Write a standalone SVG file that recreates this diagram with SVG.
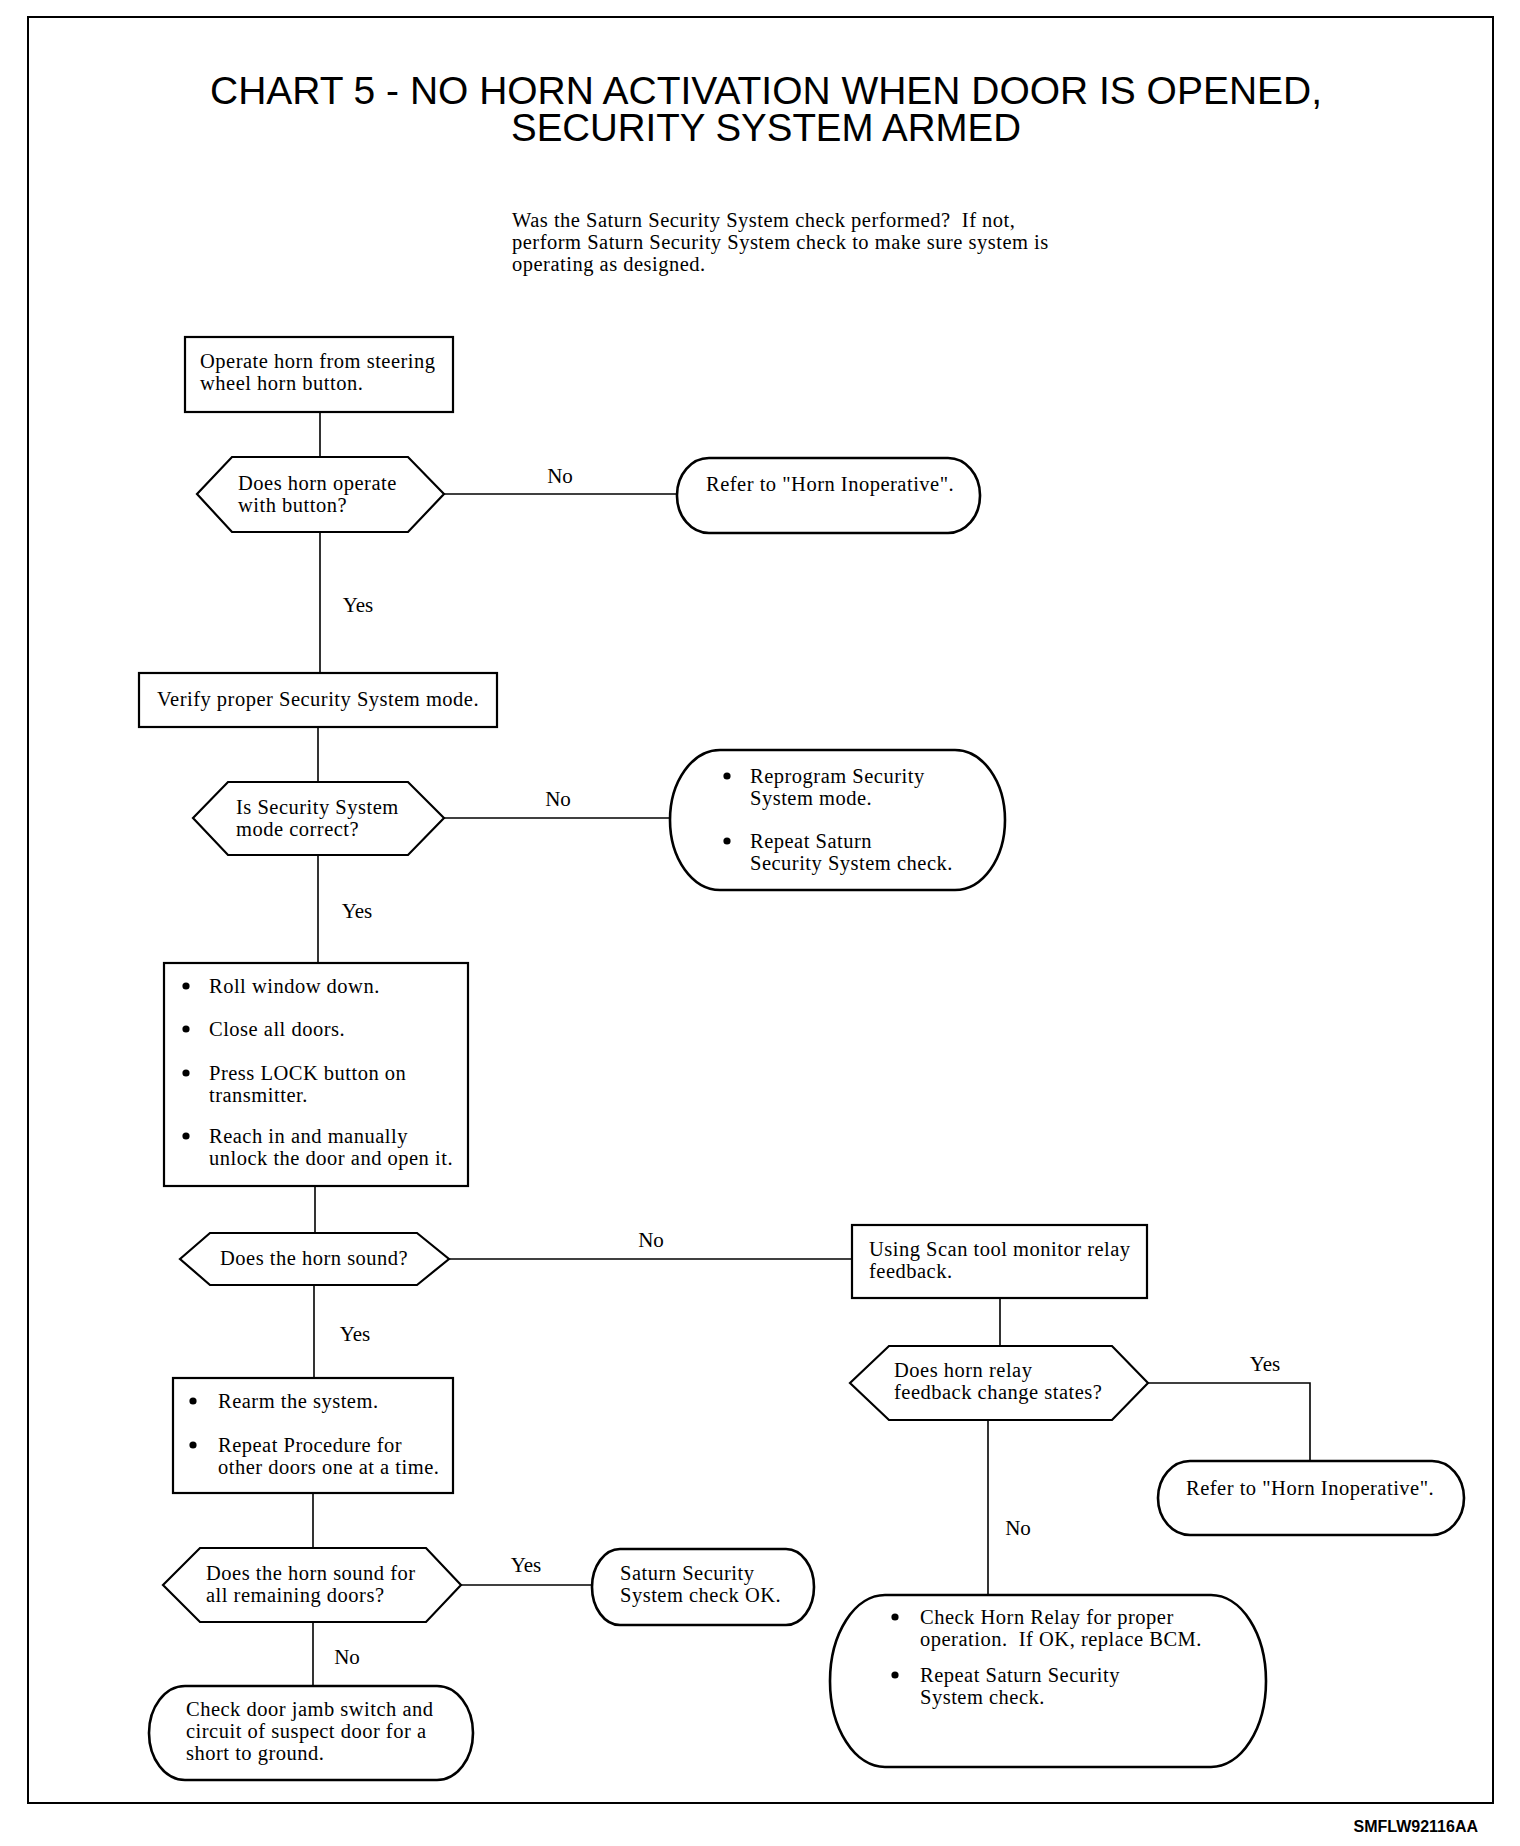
<svg xmlns="http://www.w3.org/2000/svg" width="1520" height="1846" viewBox="0 0 1520 1846">
<style>
.t{font-family:"Liberation Serif","Times New Roman",serif;font-size:20.5px;letter-spacing:0.5px;fill:#000;white-space:pre}
.lbl{font-family:"Liberation Serif","Times New Roman",serif;font-size:21px;fill:#000;text-anchor:middle}
.title{font-family:"Liberation Sans",Arial,sans-serif;font-size:38.5px;fill:#000;text-anchor:middle}
.foot{font-family:"Liberation Sans",Arial,sans-serif;font-size:16px;font-weight:bold;fill:#000;text-anchor:end}
.box{fill:#fff;stroke:#000;stroke-width:2.2}
.term{fill:#fff;stroke:#000;stroke-width:2.6}
.conn{fill:none;stroke:#000;stroke-width:1.6}
.bul{fill:#000}
</style>
<rect x="0" y="0" width="1520" height="1846" fill="#fff"/>
<rect x="28" y="17" width="1465" height="1786" fill="none" stroke="#000" stroke-width="2"/>

<g id="title">
<text class="title" x="766" y="104" textLength="1112" lengthAdjust="spacingAndGlyphs">CHART 5 - NO HORN ACTIVATION WHEN DOOR IS OPENED,</text>
<text class="title" x="766" y="141" textLength="510" lengthAdjust="spacingAndGlyphs">SECURITY SYSTEM ARMED</text>
</g>
<g id="intro">
<text class="t" x="512" y="227">Was the Saturn Security System check performed?  If not,</text>
<text class="t" x="512" y="249">perform Saturn Security System check to make sure system is</text>
<text class="t" x="512" y="271">operating as designed.</text>
</g>

<g id="connectors">
<line class="conn" x1="320" y1="412" x2="320" y2="457"/>
<line class="conn" x1="444" y1="494" x2="677" y2="494"/>
<line class="conn" x1="320" y1="532" x2="320" y2="673"/>
<line class="conn" x1="318" y1="727" x2="318" y2="782"/>
<line class="conn" x1="444" y1="818" x2="670" y2="818"/>
<line class="conn" x1="318" y1="855" x2="318" y2="963"/>
<line class="conn" x1="315" y1="1186" x2="315" y2="1233"/>
<line class="conn" x1="449" y1="1259" x2="852" y2="1259"/>
<line class="conn" x1="314" y1="1285" x2="314" y2="1378"/>
<line class="conn" x1="313" y1="1493" x2="313" y2="1548"/>
<line class="conn" x1="461" y1="1585" x2="592" y2="1585"/>
<line class="conn" x1="313" y1="1622" x2="313" y2="1686"/>
<line class="conn" x1="1000" y1="1298" x2="1000" y2="1346"/>
<polyline class="conn" points="1148,1383 1310,1383 1310,1461"/>
<line class="conn" x1="988" y1="1420" x2="988" y2="1595"/>
<text class="lbl" x="560" y="483">No</text>
<text class="lbl" x="358" y="612">Yes</text>
<text class="lbl" x="558" y="806">No</text>
<text class="lbl" x="357" y="918">Yes</text>
<text class="lbl" x="651" y="1247">No</text>
<text class="lbl" x="355" y="1341">Yes</text>
<text class="lbl" x="526" y="1572">Yes</text>
<text class="lbl" x="347" y="1664">No</text>
<text class="lbl" x="1265" y="1371">Yes</text>
<text class="lbl" x="1018" y="1535">No</text>
</g>

<g id="n1">
<rect class="box" x="185" y="337" width="268" height="75"/>
<text class="t" x="200" y="368">Operate horn from steering</text>
<text class="t" x="200" y="390">wheel horn button.</text>
</g>

<g id="n2">
<polygon class="box" points="197,494 232,457 408,457 444,494 408,532 232,532"/>
<text class="t" x="238" y="490">Does horn operate</text>
<text class="t" x="238" y="512">with button?</text>
</g>

<g id="n3">
<rect class="term" x="677" y="458" width="303" height="75" rx="32" ry="37"/>
<text class="t" x="706" y="491">Refer to "Horn Inoperative".</text>
</g>

<g id="n4">
<rect class="box" x="139" y="673" width="358" height="54"/>
<text class="t" x="157" y="706">Verify proper Security System mode.</text>
</g>

<g id="n5">
<polygon class="box" points="193,818 228,782 408,782 444,818 408,855 228,855"/>
<text class="t" x="236" y="814">Is Security System</text>
<text class="t" x="236" y="836">mode correct?</text>
</g>

<g id="n6">
<rect class="term" x="670" y="750" width="335" height="140" rx="50" ry="70"/>
<circle class="bul" cx="727" cy="776" r="3.6"/>
<text class="t" x="750" y="783">Reprogram Security</text>
<text class="t" x="750" y="805">System mode.</text>
<circle class="bul" cx="727" cy="841" r="3.6"/>
<text class="t" x="750" y="848">Repeat Saturn</text>
<text class="t" x="750" y="870">Security System check.</text>
</g>

<g id="n7">
<rect class="box" x="164" y="963" width="304" height="223"/>
<circle class="bul" cx="186" cy="986" r="3.6"/>
<text class="t" x="209" y="993">Roll window down.</text>
<circle class="bul" cx="186" cy="1029" r="3.6"/>
<text class="t" x="209" y="1036">Close all doors.</text>
<circle class="bul" cx="186" cy="1073" r="3.6"/>
<text class="t" x="209" y="1080">Press LOCK button on</text>
<text class="t" x="209" y="1102">transmitter.</text>
<circle class="bul" cx="186" cy="1136" r="3.6"/>
<text class="t" x="209" y="1143">Reach in and manually</text>
<text class="t" x="209" y="1165">unlock the door and open it.</text>
</g>

<g id="n8">
<polygon class="box" points="180,1259 210,1233 417,1233 449,1259 417,1285 210,1285"/>
<text class="t" x="220" y="1265">Does the horn sound?</text>
</g>

<g id="n9">
<rect class="box" x="852" y="1225" width="295" height="73"/>
<text class="t" x="869" y="1256">Using Scan tool monitor relay</text>
<text class="t" x="869" y="1278">feedback.</text>
</g>

<g id="n10">
<rect class="box" x="173" y="1378" width="280" height="115"/>
<circle class="bul" cx="193" cy="1401" r="3.6"/>
<text class="t" x="218" y="1408">Rearm the system.</text>
<circle class="bul" cx="193" cy="1445" r="3.6"/>
<text class="t" x="218" y="1452">Repeat Procedure for</text>
<text class="t" x="218" y="1474">other doors one at a time.</text>
</g>

<g id="n11">
<polygon class="box" points="850,1383 889,1346 1112,1346 1148,1383 1112,1420 889,1420"/>
<text class="t" x="894" y="1377">Does horn relay</text>
<text class="t" x="894" y="1399">feedback change states?</text>
</g>

<g id="n12">
<rect class="term" x="1158" y="1461" width="306" height="74" rx="32" ry="37"/>
<text class="t" x="1186" y="1495">Refer to "Horn Inoperative".</text>
</g>

<g id="n13">
<polygon class="box" points="163,1585 200,1548 426,1548 461,1585 426,1622 200,1622"/>
<text class="t" x="206" y="1580">Does the horn sound for</text>
<text class="t" x="206" y="1602">all remaining doors?</text>
</g>

<g id="n14">
<rect class="term" x="592" y="1549" width="222" height="76" rx="28" ry="38"/>
<text class="t" x="620" y="1580">Saturn Security</text>
<text class="t" x="620" y="1602">System check OK.</text>
</g>

<g id="n15">
<rect class="term" x="149" y="1686" width="324" height="94" rx="36" ry="47"/>
<text class="t" x="186" y="1716">Check door jamb switch and</text>
<text class="t" x="186" y="1738">circuit of suspect door for a</text>
<text class="t" x="186" y="1760">short to ground.</text>
</g>

<g id="n16">
<rect class="term" x="830" y="1595" width="436" height="172" rx="55" ry="86"/>
<circle class="bul" cx="895" cy="1617" r="3.6"/>
<text class="t" x="920" y="1624">Check Horn Relay for proper</text>
<text class="t" x="920" y="1646">operation.  If OK, replace BCM.</text>
<circle class="bul" cx="895" cy="1675" r="3.6"/>
<text class="t" x="920" y="1682">Repeat Saturn Security</text>
<text class="t" x="920" y="1704">System check.</text>
</g>

<text class="foot" x="1478" y="1832">SMFLW92116AA</text>
</svg>
